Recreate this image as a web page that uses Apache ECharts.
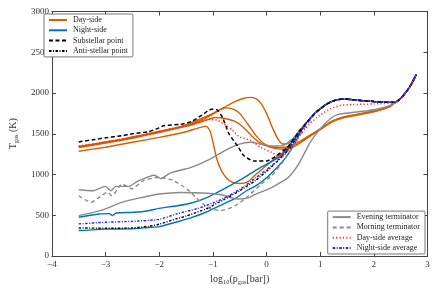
<!DOCTYPE html>
<html><head><meta charset="utf-8">
<script src="https://cdn.jsdelivr.net/npm/echarts@6/dist/echarts.min.js"></script>
<style>html,body{margin:0;padding:0;background:#fff}#c{width:437px;height:291px}</style>
</head><body><div id="c"></div>
<script>
// ---- data: [log10(p_gas [bar]), T_gas (K)] ----
const xTicks = [-4, -3, -2, -1, 0, 1, 2, 3];
const yTicks = [0, 500, 1000, 1500, 2000, 2500, 3000];

const tailHigh = [[0.75,1640],[0.9,1750],[1.0,1805],[1.1,1855],[1.2,1890],[1.3,1915],[1.45,1927],[1.6,1918],[1.8,1905],[2.0,1895],[2.2,1888],[2.4,1885],[2.5,1935],[2.6,2010],[2.7,2110],[2.79,2225]];
const tailEnd = [[2.5,1935],[2.6,2010],[2.7,2110],[2.79,2225]];

const daySide1 = [[-3.5,1345],[-3.2,1375],[-3,1400],[-2.7,1430],[-2.5,1460],[-2.2,1500],[-2,1530],[-1.7,1570],[-1.5,1610],[-1.2,1690],[-1.0,1750],[-0.8,1820],[-0.6,1890],[-0.45,1930],[-0.3,1946],[-0.2,1930],[-0.1,1870],[0,1750],[0.1,1590],[0.2,1450],[0.3,1375],[0.4,1380],[0.5,1440],[0.6,1530]];
const daySide2 = [[-3.5,1340],[-3,1395],[-2.5,1455],[-2,1525],[-1.5,1600],[-1.2,1670],[-1.0,1740],[-0.85,1800],[-0.72,1817],[-0.6,1795],[-0.5,1750],[-0.35,1620],[-0.2,1480],[-0.05,1380],[0.1,1340],[0.25,1330],[0.4,1340],[0.6,1400],[0.75,1460],[1.0,1560],[1.2,1650],[1.4,1700],[1.7,1740],[2.0,1780],[2.2,1815],[2.4,1885]];
const daySide3 = [[-3.5,1330],[-3,1385],[-2.5,1445],[-2,1515],[-1.5,1590],[-1.2,1650],[-0.95,1700],[-0.8,1690],[-0.6,1655],[-0.45,1590],[-0.3,1490],[-0.15,1400],[0,1350],[0.15,1320],[0.3,1310],[0.5,1340],[0.7,1420],[0.9,1510],[1.1,1600],[1.3,1670],[1.5,1710],[1.8,1750],[2.1,1790],[2.3,1840],[2.4,1885]];
const daySide4 = [[-3.5,1285],[-3,1335],[-2.5,1395],[-2,1455],[-1.5,1525],[-1.25,1575],[-1.12,1590],[-1.05,1530],[-1.0,1400],[-0.93,1200],[-0.85,1060],[-0.75,960],[-0.65,910],[-0.5,890],[-0.35,910],[-0.2,1000],[0,1110],[0.2,1220],[0.4,1310],[0.6,1380],[0.8,1470],[1.0,1550],[1.2,1640],[1.4,1690],[1.7,1730],[2.0,1770],[2.3,1830],[2.4,1885]];
const nightSide1 = [[-3.5,475],[-3.12,516],[-2.93,520],[-2.87,495],[-2.8,528],[-2.45,536],[-2.2,556],[-2.0,585],[-1.66,617],[-1.4,650],[-1.1,720],[-0.8,820],[-0.5,930],[-0.3,1010],[-0.1,1090],[0.1,1160],[0.3,1250],[0.45,1380],[0.6,1510]];
const nightSide2 = [[-3.5,312],[-3,330],[-2.5,333],[-2.2,350],[-2.0,360],[-1.66,420],[-1.4,470],[-1.12,540],[-0.9,610],[-0.6,700],[-0.35,810],[-0.2,860],[0,960],[0.2,1090],[0.35,1200],[0.5,1350],[0.65,1540]];
const substellar = [[-3.5,1400],[-3.2,1430],[-3,1450],[-2.7,1475],[-2.5,1500],[-2.2,1525],[-2.05,1560],[-1.9,1600],[-1.6,1615],[-1.4,1650],[-1.2,1730],[-1.03,1800],[-0.93,1796],[-0.82,1700],[-0.7,1500],[-0.54,1350],[-0.42,1230],[-0.24,1166],[0,1166],[0.18,1227],[0.4,1340],[0.6,1520]];
const antistellar = [[-3.5,345],[-3,340],[-2.5,345],[-2.2,365],[-2,390],[-1.66,460],[-1.5,490],[-1.12,580],[-0.8,690],[-0.5,800],[-0.2,930],[0,1040],[0.2,1160],[0.4,1300],[0.6,1490]];
const eveningTerm1 = [[-3.5,812],[-3.25,800],[-3.0,854],[-2.9,800],[-2.81,854],[-2.57,854],[-2.39,922],[-2.09,991],[-1.97,950],[-1.79,1020],[-1.42,1085],[-1.06,1187],[-0.76,1300],[-0.52,1370],[-0.3,1395],[-0.1,1370],[0.1,1350],[0.3,1355],[0.45,1420],[0.6,1520]];
const eveningTerm2 = [[-3.5,495],[-3.1,556],[-2.7,658],[-2.4,707],[-2.0,760],[-1.6,780],[-1.1,770],[-0.8,745],[-0.55,700],[-0.35,710],[-0.2,760],[0,810],[0.2,880],[0.4,960],[0.6,1130],[0.8,1380],[1.0,1560],[1.2,1690],[1.35,1740],[1.6,1760],[2.0,1795],[2.3,1845],[2.4,1885]];
const morningTerm = [[-3.5,739],[-3.27,658],[-3.12,719],[-2.97,780],[-2.88,740],[-2.69,882],[-2.51,825],[-2.3,922],[-2.03,963],[-1.75,930],[-1.48,820],[-1.24,670],[-1.05,580],[-0.85,560],[-0.6,610],[-0.37,720],[-0.1,880],[0.1,990],[0.3,1150],[0.5,1350],[0.7,1560],[0.9,1740],[1.1,1860],[1.3,1912],[1.45,1927]];
const dayAverage = [[-3.5,1350],[-3,1400],[-2.5,1460],[-2,1530],[-1.66,1580],[-1.3,1640],[-1.06,1674],[-0.91,1665],[-0.75,1600],[-0.64,1545],[-0.5,1460],[-0.3,1420],[-0.1,1330],[0.1,1270],[0.27,1210],[0.45,1330],[0.6,1460],[0.8,1620],[1.0,1730],[1.2,1810],[1.4,1850],[1.6,1858],[2.0,1865],[2.2,1872],[2.4,1885]];
const nightAverage = [[-3.5,394],[-3,414],[-2.5,425],[-2,450],[-1.66,520],[-1.3,580],[-1.0,650],[-0.7,740],[-0.4,860],[-0.2,960],[0,1060],[0.2,1170],[0.4,1310],[0.6,1500]];

// ---- chart ----
const FONT = '"Liberation Serif", "DejaVu Serif", serif';
const ORANGE = '#d55e00', BLUE = '#0072b2', GREY = '#8a8a8a';
const withHigh = a => a.concat(tailHigh.filter(p => p[0] > a[a.length - 1][0]));
const withEnd = a => a.concat(tailEnd);

function line(name, data, color, type, width) {
  return {
    name, type: 'line', data, showSymbol: false, symbol: 'none', smooth: 0.2,
    lineStyle: { color, width: width || 1.4, type: type || 'solid' },
    itemStyle: { color }, emphasis: { disabled: true }, animation: false
  };
}

const series = [
  line('Day-side', withHigh(daySide1), ORANGE),
  line('Day-side', withEnd(daySide2), ORANGE),
  line('Day-side', withEnd(daySide3), ORANGE),
  line('Day-side', withEnd(daySide4), ORANGE),
  line('Night-side', withHigh(nightSide1), BLUE),
  line('Night-side', withHigh(nightSide2), BLUE),
  line('Evening terminator', withHigh(eveningTerm1), GREY),
  line('Evening terminator', withEnd(eveningTerm2), GREY),
  line('Morning terminator', withHigh(morningTerm), GREY, [4, 3]),
  line('Substellar point', withHigh(substellar), '#000', [4, 2.5], 1.5),
  line('Anti-stellar point', withHigh(antistellar), '#000', [2.5, 1.5, 1, 1.5], 1.4),
  line('Day-side average', withEnd(dayAverage), '#ff2a2a', [1.2, 2.2], 1.5),
  line('Night-side average', withHigh(nightAverage), '#2020ff', [2.5, 1.5, 1, 1.5], 1.4)
];

const axisCommon = {
  type: 'value', splitLine: { show: false },
  axisLine: { show: true, onZero: false, lineStyle: { color: '#444', width: 1 } },
  axisTick: { show: true, inside: true, length: 4, lineStyle: { color: '#444' } }
};
const labelStyle = { fontFamily: FONT, fontSize: 9, color: '#333' };
const rich = {
  n: { fontFamily: FONT, fontSize: 10, color: '#333', lineHeight: 14 },
  s: { fontFamily: FONT, fontSize: 6.5, color: '#333', lineHeight: 7, verticalAlign: 'bottom' }
};
const legendCommon = {
  orient: 'vertical', itemWidth: 18, itemHeight: 8, itemGap: 2.3,
  padding: [2, 5, 2, 4], borderColor: '#555', borderWidth: 0.8, borderRadius: 1,
  backgroundColor: '#fff', selectedMode: false,
  itemStyle: { opacity: 0, borderWidth: 0 },
  textStyle: { fontFamily: FONT, fontSize: 8, color: '#222', padding: [0, 0, 0, 1] }
};

const chart = echarts.init(document.getElementById('c'), null, { renderer: 'canvas' });
chart.setOption({
  animation: false,
  backgroundColor: '#fff',
  grid: { left: 41, right: 9.5, top: 11.5, bottom: 33.7 },
  xAxis: [
    Object.assign({}, axisCommon, {
      min: xTicks[0], max: xTicks[xTicks.length - 1], interval: 1, position: 'bottom',
      axisLabel: Object.assign({}, labelStyle, { margin: 4, formatter: v => String(v).replace('-', '\u2212') }),
      name: '{n|log}{s|10}{n|(p}{s|gas}{n|[bar])}', nameLocation: 'middle', nameGap: 16,
      nameTextStyle: { rich }
    }),
    Object.assign({}, axisCommon, {
      min: xTicks[0], max: xTicks[xTicks.length - 1], interval: 1, position: 'top',
      axisLabel: { show: false }
    })
  ],
  yAxis: [
    Object.assign({}, axisCommon, {
      min: yTicks[0], max: yTicks[yTicks.length - 1], interval: 500, position: 'left',
      axisLabel: Object.assign({}, labelStyle, { margin: 3, formatter: v => String(v) }),
      name: '{n|T}{s|gas}{n| (K)}', nameLocation: 'middle', nameGap: 28, nameRotate: 90,
      nameTextStyle: { rich }
    }),
    Object.assign({}, axisCommon, {
      min: yTicks[0], max: yTicks[yTicks.length - 1], interval: 500, position: 'right',
      axisLabel: { show: false }
    })
  ],
  legend: [
    Object.assign({}, legendCommon, {
      data: ['Day-side', 'Night-side', 'Substellar point', 'Anti-stellar point'],
      left: 44, top: 14
    }),
    Object.assign({}, legendCommon, {
      data: ['Evening terminator', 'Morning terminator', 'Day-side average', 'Night-side average'],
      right: 12, bottom: 37
    })
  ],
  series
});
</script></body></html>
